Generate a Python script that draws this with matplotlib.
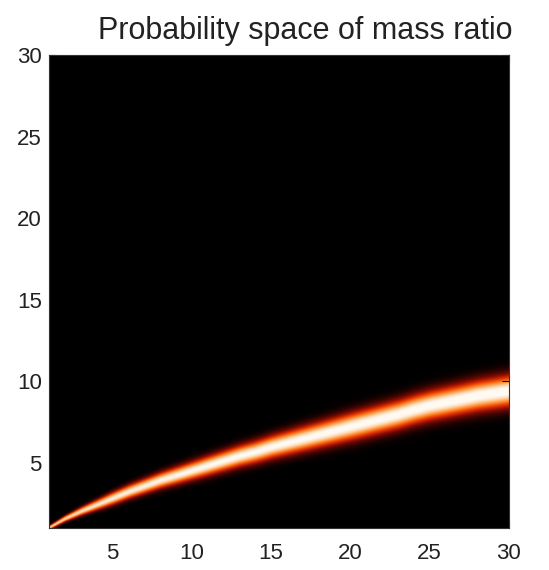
#!/usr/bin/env python3
# -*- coding:utf-8 -*-
# Probability space of mass ratio: ridge drawn as an image with a hot-style colormap

import numpy as np
import matplotlib

matplotlib.use("Agg")
import matplotlib.pyplot as plt
from matplotlib.colors import LinearSegmentedColormap

# ridge centre, one value per integer x
x_cols = list(range(1, 31))
ridge_center = [1.0, 1.55, 2.0, 2.4, 2.8, 3.2, 3.55, 3.9, 4.2, 4.5,
                4.8, 5.1, 5.4, 5.65, 5.95, 6.2, 6.45, 6.7, 6.95, 7.2,
                7.45, 7.7, 7.95, 8.25, 8.5, 8.7, 8.9, 9.1, 9.25, 9.4]

# band width (sigma) and peak brightness read at a few x positions
x_read = [1, 5, 11, 20, 30]
ridge_sigma = [0.08, 0.25, 0.38, 0.54, 0.62]
ridge_peak = [0.85, 0.95, 1.0, 1.02, 1.05]

tick_vals = [5, 10, 15, 20, 25, 30]
title = "Probability space of mass ratio"

# render grid
nx, ny = 700, 700
gx = np.linspace(1, 30, nx)
gy = np.linspace(1, 30, ny)
c = np.interp(gx, x_cols, ridge_center)
s = np.interp(gx, x_read, ridge_sigma)
p = np.interp(gx, x_read, ridge_peak)
Y = gy[:, None]
Z = p[None, :] * np.exp(-0.5 * ((Y - c[None, :]) / s[None, :]) ** 2)

# hot-like map as it looks in the picture: black -> red -> orange -> peach -> white
hot_black = LinearSegmentedColormap.from_list(
    "hot_black",
    [(0.0, "black"), (0.25, "#8a0c00"), (0.45, "#e83800"),
     (0.65, "#ff8a2a"), (0.85, "#ffd2a8"), (1.0, "#fffaf2")])

plt.rcParams["font.family"] = ["Liberation Sans", "DejaVu Sans"]

fig = plt.figure(figsize=(5.49, 5.70), dpi=100)
ax = fig.add_axes([0.089, 0.074, 0.838, 0.829])
ax.imshow(Z, cmap=hot_black, vmin=0, vmax=1, origin="lower",
          extent=[1, 30, 1, 30], aspect="auto", interpolation="bilinear")
ax.set_xlim(1, 30)
ax.set_ylim(1, 30)
ax.set_xticks(tick_vals)
ax.set_yticks(tick_vals)
ax.tick_params(direction="in", length=5, width=0.8, top=True, right=True,
               labelsize=16, colors="black", labelcolor="#222222")
ax.tick_params(axis="x", pad=11)
ax.tick_params(axis="y", pad=5)
for sp in ax.spines.values():
    sp.set_linewidth(0.8)
    sp.set_color("#333333")
ax.set_title(title, fontsize=22, pad=12, color="#222222", x=0.557)

fig.savefig("out.png", dpi=100, facecolor="white")
